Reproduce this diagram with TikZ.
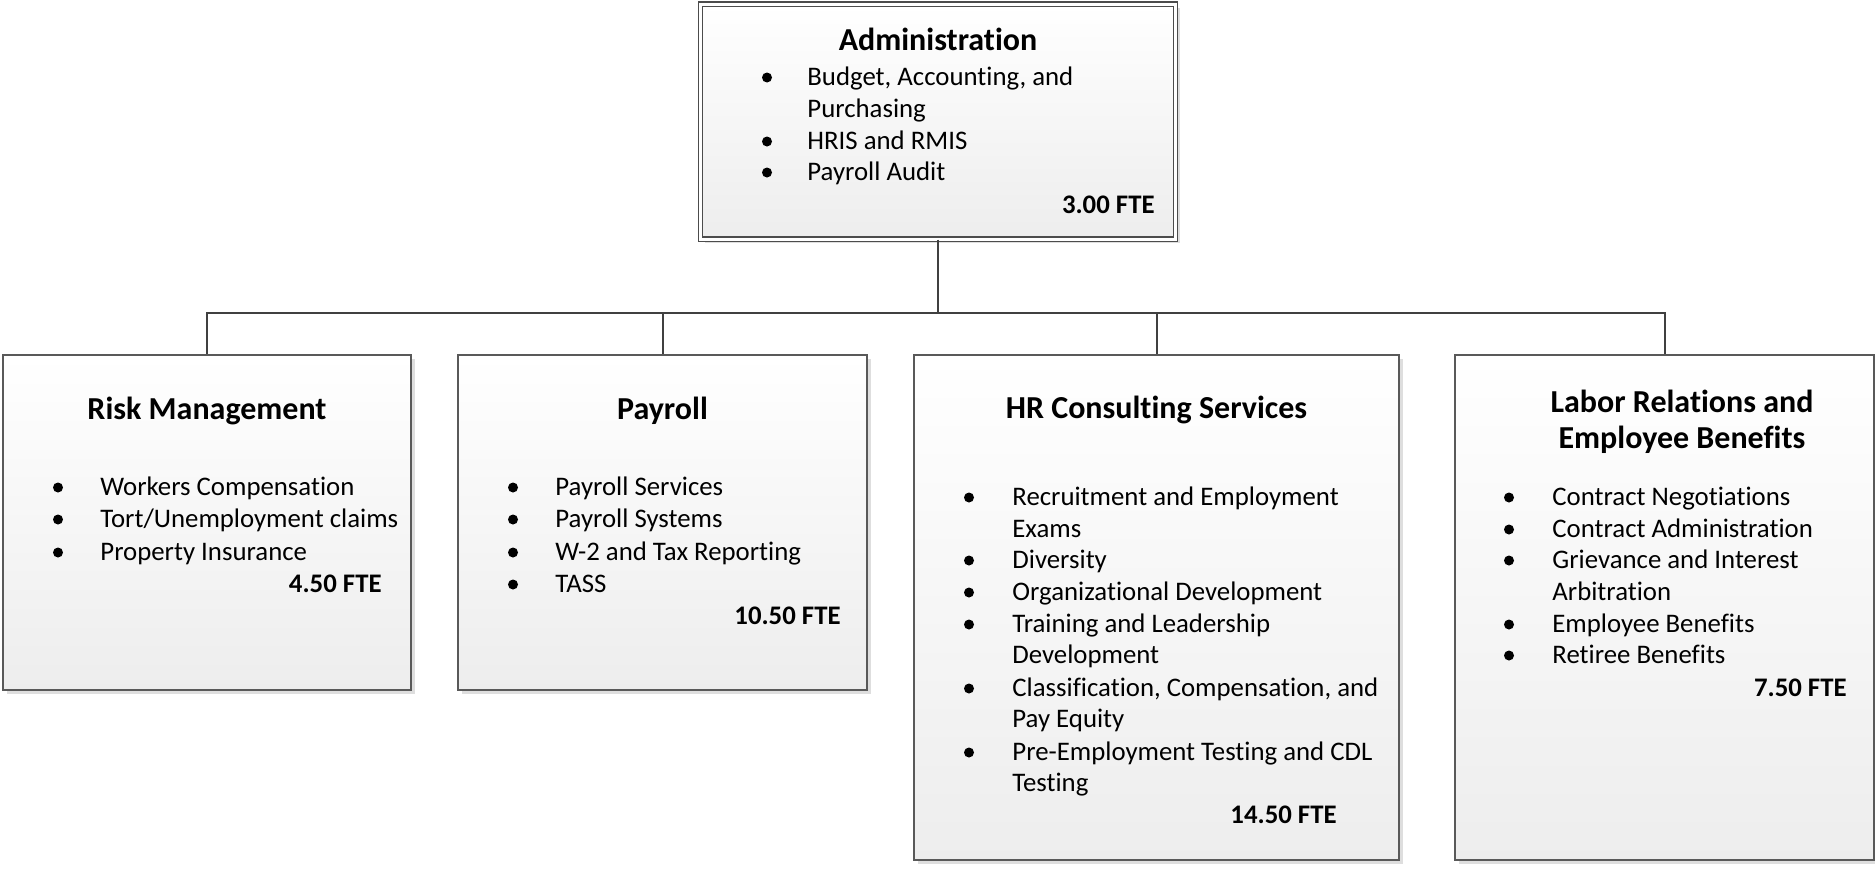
\documentclass[tikz,border=0pt]{standalone}
\usepackage{fontspec}
\setmainfont{Carlito}[Ligatures=NoCommon]
\usetikzlibrary{shadows}
\tikzset{
  orgbox/.style={draw=black!65, line width=0.6pt, top color=white, bottom color=black!7,
    inner sep=0, drop shadow={shadow xshift=2pt, shadow yshift=-2pt, fill=black!13, opacity=1}},
  conn/.style={draw=black!75, line width=1pt},
  txt/.style={anchor=base west, inner sep=0, font=\fontsize{13.4pt}{16pt}\selectfont},
  ttl/.style={anchor=base, inner sep=0, font=\fontsize{16pt}{19pt}\selectfont\bfseries},
  fte/.style={anchor=base east, inner sep=0, font=\fontsize{13.4pt}{16pt}\selectfont\bfseries},
  bul/.style={fill=black}
}
\newcommand\bli[5]{\fill[bul] (#1,#3-7.5) circle (2.5pt); \node[txt] (#5) at (#2,#3) {#4};}
\newcommand\cli[4]{\node[txt] (#4) at (#1,#2) {#3};}
\begin{document}
\begin{tikzpicture}[x=0.5pt,y=-0.5pt]
\useasboundingbox (0,0) rectangle (1875,868);
% boxes
\node[orgbox, draw=black!70, double=white, double distance=1.5pt, minimum width=237.5pt, minimum height=117.5pt] (admin) at (938,121.5) {};
\node[orgbox, minimum width=204pt, minimum height=167.5pt] (risk) at (207,522.5) {};
\node[orgbox, minimum width=204.5pt, minimum height=167.5pt] (pay) at (662.5,522.5) {};
\node[orgbox, minimum width=242.5pt, minimum height=252.5pt] (hr) at (1156.5,607.5) {};
\node[orgbox, minimum width=209.5pt, minimum height=252.5pt] (labor) at (1664.5,607.5) {};
% connectors
\coordinate (bus) at (938,313);
\draw[conn] (admin.south) -- (bus);
\foreach \n in {risk,pay,hr,labor} \draw[conn] (bus) -| (\n.north);
% Administration
\node[ttl] (adt) at (938,50) {Administration};
\bli{767}{807}{85}{Budget, Accounting, and}{a1}
\cli{807}{117}{Purchasing}{a1b}
\bli{767}{807}{149}{HRIS and RMIS}{a2}
\bli{767}{807}{180}{Payroll Audit}{a3}
\node[fte] (afte) at (1155,213) {3.00 FTE};
% Risk
\node[ttl] (rt) at (207,419) {Risk Management};
\bli{58}{100}{495}{Workers Compensation}{r1}
\bli{58}{100}{527}{Tort/Unemployment claims}{r2}
\bli{58}{100}{560}{Property Insurance}{r3}
\node[fte] (rfte) at (382,592) {4.50 FTE};
% Payroll
\node[ttl] (pt) at (662.5,419) {Payroll};
\bli{513}{555}{495}{Payroll Services}{p1}
\bli{513}{555}{527}{Payroll Systems}{p2}
\bli{513}{555}{560}{W-2 and Tax Reporting}{p3}
\bli{513}{555}{592}{TASS}{p4}
\node[fte] (pfte) at (841,624) {10.50 FTE};
% HR
\node[ttl] (ht) at (1156.5,418) {HR Consulting Services};
\bli{969}{1012}{505}{Recruitment and Employment}{h1}
\cli{1012}{537}{Exams}{h1b}
\bli{969}{1012}{568}{Diversity}{h2}
\bli{969}{1012}{600}{Organizational Development}{h3}
\bli{969}{1012}{632}{Training and Leadership}{h4}
\cli{1012}{663}{Development}{h4b}
\bli{969}{1012}{696}{Classification, Compensation, and}{h5}
\cli{1012}{727}{Pay Equity}{h5b}
\bli{969}{1012}{760}{Pre-Employment Testing and CDL}{h6}
\cli{1012}{791}{Testing}{h6b}
\node[fte] (hfte) at (1337,823) {14.50 FTE};
% Labor
\node[ttl] (lt1) at (1682,412) {Labor Relations and};
\node[ttl] (lt2) at (1682,448) {Employee Benefits};
\bli{1509}{1552}{505}{Contract Negotiations}{l1}
\bli{1509}{1552}{537}{Contract Administration}{l2}
\bli{1509}{1552}{568}{Grievance and Interest}{l3}
\cli{1552}{600}{Arbitration}{l3b}
\bli{1509}{1552}{632}{Employee Benefits}{l4}
\bli{1509}{1552}{663}{Retiree Benefits}{l5}
\node[fte] (lfte) at (1847,696) {7.50 FTE};
\end{tikzpicture}
\end{document}
